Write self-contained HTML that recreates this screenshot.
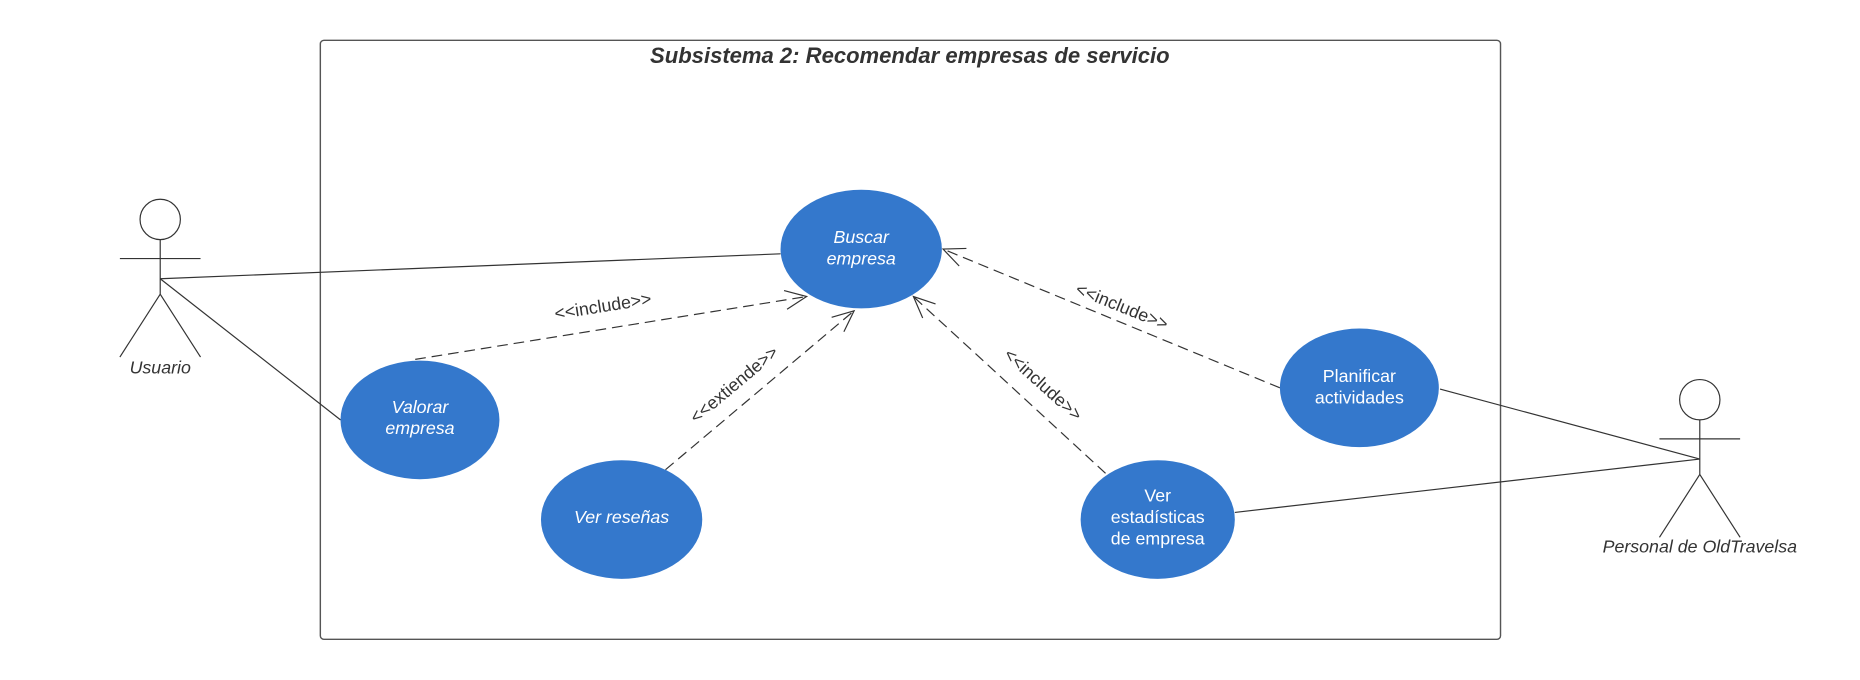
<!DOCTYPE html>
<html><head><meta charset="utf-8"><style>html,body{margin:0;padding:0;background:#fff;}svg{display:block;}</style></head>
<body>
<svg width="1860" height="680" viewBox="0 0 1568 573.3" xmlns="http://www.w3.org/2000/svg" font-family="Liberation Sans, Arial, sans-serif">
<defs>
<marker id="a" markerWidth="24" markerHeight="24" refX="20" refY="12" orient="auto" markerUnits="userSpaceOnUse">
<path d="M2,4 L20,12 L2,20" fill="none" stroke="#333" stroke-width="1"/>
</marker>
</defs>
<rect x="270" y="34" width="995" height="505" rx="3" fill="#fff" stroke="#555" stroke-width="1.2"/>
<text x="767" y="53" text-anchor="middle" font-size="18.6" font-weight="bold" font-style="italic" fill="#333">Subsistema 2: Recomendar empresas de servicio</text>

<g stroke="#333" stroke-width="1" fill="none">
<circle cx="135" cy="185" r="17"/>
<line x1="135" y1="202" x2="135" y2="248"/>
<line x1="101" y1="218" x2="169" y2="218"/>
<line x1="135" y1="248" x2="101" y2="301"/>
<line x1="135" y1="248" x2="169" y2="301"/>
<circle cx="1433" cy="337" r="17"/>
<line x1="1433" y1="354" x2="1433" y2="400"/>
<line x1="1399" y1="370" x2="1467" y2="370"/>
<line x1="1433" y1="400" x2="1399" y2="453"/>
<line x1="1433" y1="400" x2="1467" y2="453"/>
<line x1="135" y1="235" x2="658" y2="214"/>
<line x1="135" y1="235" x2="287" y2="354"/>
<line x1="1433" y1="387" x2="1214" y2="328"/>
<line x1="1433" y1="387" x2="1041" y2="432"/>
</g>
<g stroke="#333" stroke-width="1" fill="none" stroke-dasharray="9,5" marker-end="url(#a)">
<line x1="350" y1="303" x2="680" y2="250"/>
<line x1="561" y1="396" x2="720" y2="262"/>
<line x1="932" y1="399" x2="770" y2="250"/>
<line x1="1079" y1="327" x2="795" y2="210"/>
</g>
<g font-size="15" fill="#333">
<text x="135" y="315" text-anchor="middle" font-style="italic">Usuario</text>
<text x="1433" y="466" text-anchor="middle" font-style="italic">Personal de OldTravelsa</text>
<text transform="translate(509,263) rotate(-9)" text-anchor="middle">&lt;&lt;include&gt;&gt;</text>
<text transform="translate(622,328) rotate(-40)" text-anchor="middle">&lt;&lt;extiende&gt;&gt;</text>
<text transform="translate(876,328) rotate(42)" text-anchor="middle">&lt;&lt;include&gt;&gt;</text>
<text transform="translate(944,263) rotate(22)" text-anchor="middle">&lt;&lt;include&gt;&gt;</text>
</g>
<g fill="#3478CC">
<ellipse cx="726" cy="210" rx="68" ry="50"/>
<ellipse cx="354" cy="354" rx="67" ry="50"/>
<ellipse cx="524" cy="438" rx="68" ry="50"/>
<ellipse cx="976" cy="438" rx="65" ry="50"/>
<ellipse cx="1146" cy="327" rx="67" ry="50"/>
</g>
<g font-size="15" fill="#fff" text-anchor="middle">
<text x="726" y="205" font-style="italic">Buscar</text>
<text x="726" y="223" font-style="italic">empresa</text>
<text x="354" y="348" font-style="italic">Valorar</text>
<text x="354" y="366" font-style="italic">empresa</text>
<text x="524" y="441" font-style="italic">Ver reseñas</text>
<text x="976" y="423">Ver</text>
<text x="976" y="441">estadísticas</text>
<text x="976" y="459">de empresa</text>
<text x="1146" y="322">Planificar</text>
<text x="1146" y="340">actividades</text>
</g>
</svg>
</body></html>
